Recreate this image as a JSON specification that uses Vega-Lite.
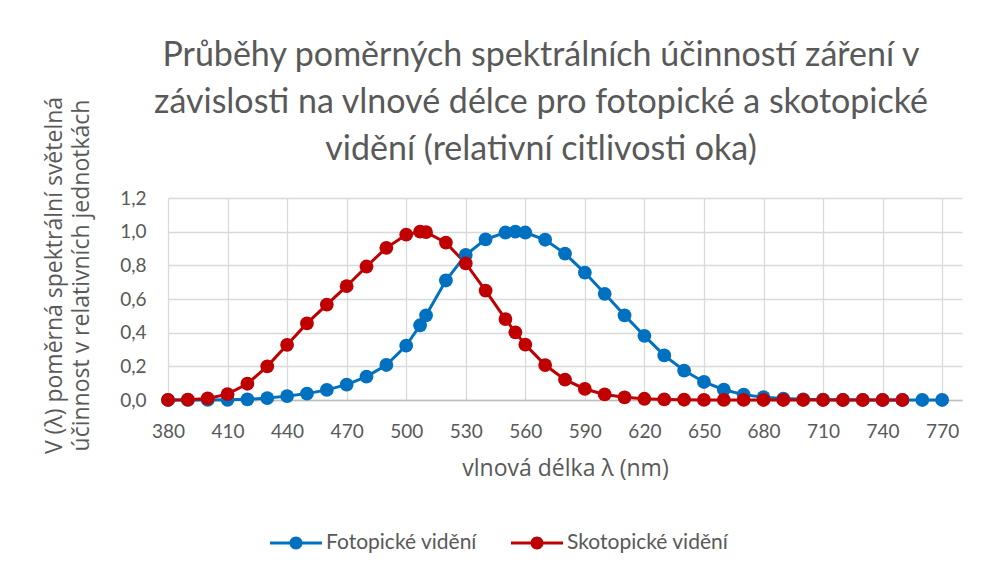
{
  "$schema": "https://vega.github.io/schema/vega-lite/v6.json",
  "width": 794,
  "height": 202,
  "autosize": {"type": "none"},
  "padding": {"left": 168, "top": 198, "right": 38, "bottom": 173},
  "background": "white",
  "config": {
    "locale": {"number": {"decimal": ",", "thousands": " ", "grouping": [3], "currency": ["", " Kč"]}},
    "font": "Lato",
    "view": {"stroke": null},
    "axis": {"labelColor": "#595959", "titleColor": "#595959", "labelFontSize": 19, "titleFontSize": 23, "titleFontWeight": "normal", "gridColor": "#D9D9D9", "gridWidth": 1.3, "ticks": false, "labelFont": "Lato", "titleFont": "Open Sans"}
  },
  "title": {
    "text": ["Průběhy poměrných spektrálních účinností záření v", "závislosti na vlnové délce pro fotopické a skotopické", "vidění (relativní citlivosti oka)"],
    "fontSize": 34,
    "fontWeight": "normal",
    "color": "#595959",
    "font": "Lato",
    "anchor": "middle",
    "frame": "group",
    "lineHeight": 47,
    "offset": -26,
    "dx": -24,
    "dy": 45
  },
  "data": {
    "values": [
      {"nm": 380, "v": 0.000039, "s": "Fotopické vidění"},
      {"nm": 390, "v": 0.00012, "s": "Fotopické vidění"},
      {"nm": 400, "v": 0.000396, "s": "Fotopické vidění"},
      {"nm": 410, "v": 0.00121, "s": "Fotopické vidění"},
      {"nm": 420, "v": 0.004, "s": "Fotopické vidění"},
      {"nm": 430, "v": 0.0116, "s": "Fotopické vidění"},
      {"nm": 440, "v": 0.023, "s": "Fotopické vidění"},
      {"nm": 450, "v": 0.038, "s": "Fotopické vidění"},
      {"nm": 460, "v": 0.06, "s": "Fotopické vidění"},
      {"nm": 470, "v": 0.091, "s": "Fotopické vidění"},
      {"nm": 480, "v": 0.139, "s": "Fotopické vidění"},
      {"nm": 490, "v": 0.208, "s": "Fotopické vidění"},
      {"nm": 500, "v": 0.323, "s": "Fotopické vidění"},
      {"nm": 507, "v": 0.444, "s": "Fotopické vidění"},
      {"nm": 510, "v": 0.503, "s": "Fotopické vidění"},
      {"nm": 520, "v": 0.71, "s": "Fotopické vidění"},
      {"nm": 530, "v": 0.862, "s": "Fotopické vidění"},
      {"nm": 540, "v": 0.954, "s": "Fotopické vidění"},
      {"nm": 550, "v": 0.995, "s": "Fotopické vidění"},
      {"nm": 555, "v": 1.0, "s": "Fotopické vidění"},
      {"nm": 560, "v": 0.995, "s": "Fotopické vidění"},
      {"nm": 570, "v": 0.952, "s": "Fotopické vidění"},
      {"nm": 580, "v": 0.87, "s": "Fotopické vidění"},
      {"nm": 590, "v": 0.757, "s": "Fotopické vidění"},
      {"nm": 600, "v": 0.631, "s": "Fotopické vidění"},
      {"nm": 610, "v": 0.503, "s": "Fotopické vidění"},
      {"nm": 620, "v": 0.381, "s": "Fotopické vidění"},
      {"nm": 630, "v": 0.265, "s": "Fotopické vidění"},
      {"nm": 640, "v": 0.175, "s": "Fotopické vidění"},
      {"nm": 650, "v": 0.107, "s": "Fotopické vidění"},
      {"nm": 660, "v": 0.061, "s": "Fotopické vidění"},
      {"nm": 670, "v": 0.032, "s": "Fotopické vidění"},
      {"nm": 680, "v": 0.017, "s": "Fotopické vidění"},
      {"nm": 690, "v": 0.0082, "s": "Fotopické vidění"},
      {"nm": 700, "v": 0.0041, "s": "Fotopické vidění"},
      {"nm": 710, "v": 0.0021, "s": "Fotopické vidění"},
      {"nm": 720, "v": 0.00105, "s": "Fotopické vidění"},
      {"nm": 730, "v": 0.00052, "s": "Fotopické vidění"},
      {"nm": 740, "v": 0.00025, "s": "Fotopické vidění"},
      {"nm": 750, "v": 0.00012, "s": "Fotopické vidění"},
      {"nm": 760, "v": 0.00006, "s": "Fotopické vidění"},
      {"nm": 770, "v": 0.00003, "s": "Fotopické vidění"},
      {"nm": 380, "v": 0.000589, "s": "Skotopické vidění"},
      {"nm": 390, "v": 0.002209, "s": "Skotopické vidění"},
      {"nm": 400, "v": 0.00929, "s": "Skotopické vidění"},
      {"nm": 410, "v": 0.03484, "s": "Skotopické vidění"},
      {"nm": 420, "v": 0.0966, "s": "Skotopické vidění"},
      {"nm": 430, "v": 0.1998, "s": "Skotopické vidění"},
      {"nm": 440, "v": 0.3281, "s": "Skotopické vidění"},
      {"nm": 450, "v": 0.455, "s": "Skotopické vidění"},
      {"nm": 460, "v": 0.567, "s": "Skotopické vidění"},
      {"nm": 470, "v": 0.676, "s": "Skotopické vidění"},
      {"nm": 480, "v": 0.793, "s": "Skotopické vidění"},
      {"nm": 490, "v": 0.904, "s": "Skotopické vidění"},
      {"nm": 500, "v": 0.982, "s": "Skotopické vidění"},
      {"nm": 507, "v": 1.0, "s": "Skotopické vidění"},
      {"nm": 510, "v": 0.997, "s": "Skotopické vidění"},
      {"nm": 520, "v": 0.935, "s": "Skotopické vidění"},
      {"nm": 530, "v": 0.811, "s": "Skotopické vidění"},
      {"nm": 540, "v": 0.65, "s": "Skotopické vidění"},
      {"nm": 550, "v": 0.481, "s": "Skotopické vidění"},
      {"nm": 555, "v": 0.402, "s": "Skotopické vidění"},
      {"nm": 560, "v": 0.3288, "s": "Skotopické vidění"},
      {"nm": 570, "v": 0.2076, "s": "Skotopické vidění"},
      {"nm": 580, "v": 0.1212, "s": "Skotopické vidění"},
      {"nm": 590, "v": 0.0655, "s": "Skotopické vidění"},
      {"nm": 600, "v": 0.03315, "s": "Skotopické vidění"},
      {"nm": 610, "v": 0.01593, "s": "Skotopické vidění"},
      {"nm": 620, "v": 0.00737, "s": "Skotopické vidění"},
      {"nm": 630, "v": 0.003335, "s": "Skotopické vidění"},
      {"nm": 640, "v": 0.001497, "s": "Skotopické vidění"},
      {"nm": 650, "v": 0.000677, "s": "Skotopické vidění"},
      {"nm": 660, "v": 0.000313, "s": "Skotopické vidění"},
      {"nm": 670, "v": 0.000148, "s": "Skotopické vidění"},
      {"nm": 680, "v": 0.0000715, "s": "Skotopické vidění"},
      {"nm": 690, "v": 0.0000353, "s": "Skotopické vidění"},
      {"nm": 700, "v": 0.0000178, "s": "Skotopické vidění"},
      {"nm": 710, "v": 0.0000091, "s": "Skotopické vidění"},
      {"nm": 720, "v": 0.0000048, "s": "Skotopické vidění"},
      {"nm": 730, "v": 0.0000025, "s": "Skotopické vidění"},
      {"nm": 740, "v": 0.0000014, "s": "Skotopické vidění"},
      {"nm": 750, "v": 0.0000008, "s": "Skotopické vidění"}
    ]
  },
  "encoding": {
    "x": {
      "field": "nm", "type": "quantitative",
      "scale": {"domain": [380, 780], "nice": false, "zero": false},
      "axis": {"values": [380, 410, 440, 470, 500, 530, 560, 590, 620, 650, 680, 710, 740, 770], "title": "vlnová délka λ (nm)", "titlePadding": 16, "labelPadding": 22, "domainColor": "#BFBFBF", "domainWidth": 1.3, "labelFlush": false}
    },
    "y": {
      "field": "v", "type": "quantitative",
      "scale": {"domain": [0, 1.2], "nice": false},
      "axis": {"values": [0, 0.2, 0.4, 0.6, 0.8, 1.0, 1.2], "format": ".1f", "domain": false, "labelPadding": 22,
        "title": ["V (λ) poměrná spektrální světelná", "účinnost v relativních jednotkách"], "titleLineHeight": 27, "titleY": 77, "titleX": -102}
    },
    "color": {
      "field": "s", "type": "nominal",
      "scale": {"domain": ["Fotopické vidění", "Skotopické vidění"], "range": ["#0070C0", "#C00000"]},
      "legend": {"title": null, "orient": "none", "legendX": 102, "legendY": 319, "direction": "horizontal", "labelFontSize": 21, "labelColor": "#595959", "labelFont": "Lato", "labelLimit": 400,
        "symbolType": "M-1,-0.058H-0.2V0.058H-1Z M0.2,-0.058H1V0.058H0.2Z M-0.25,0A0.25,0.25 0 1,1 0.25,0A0.25,0.25 0 1,1 -0.25,0Z",
        "symbolSize": 2704, "symbolStrokeWidth": 0, "symbolOpacity": 1, "columnPadding": 34, "labelOffset": 4,
        "encode": {"symbols": {"update": {"size": {"value": 2704}, "strokeWidth": {"value": 0}}}}}
    }
  },
  "layer": [
    {
      "mark": {"type": "line", "strokeWidth": 3}
    },
    {
      "mark": {"type": "point", "filled": true, "opacity": 1, "size": 190}
    }
  ]
}
